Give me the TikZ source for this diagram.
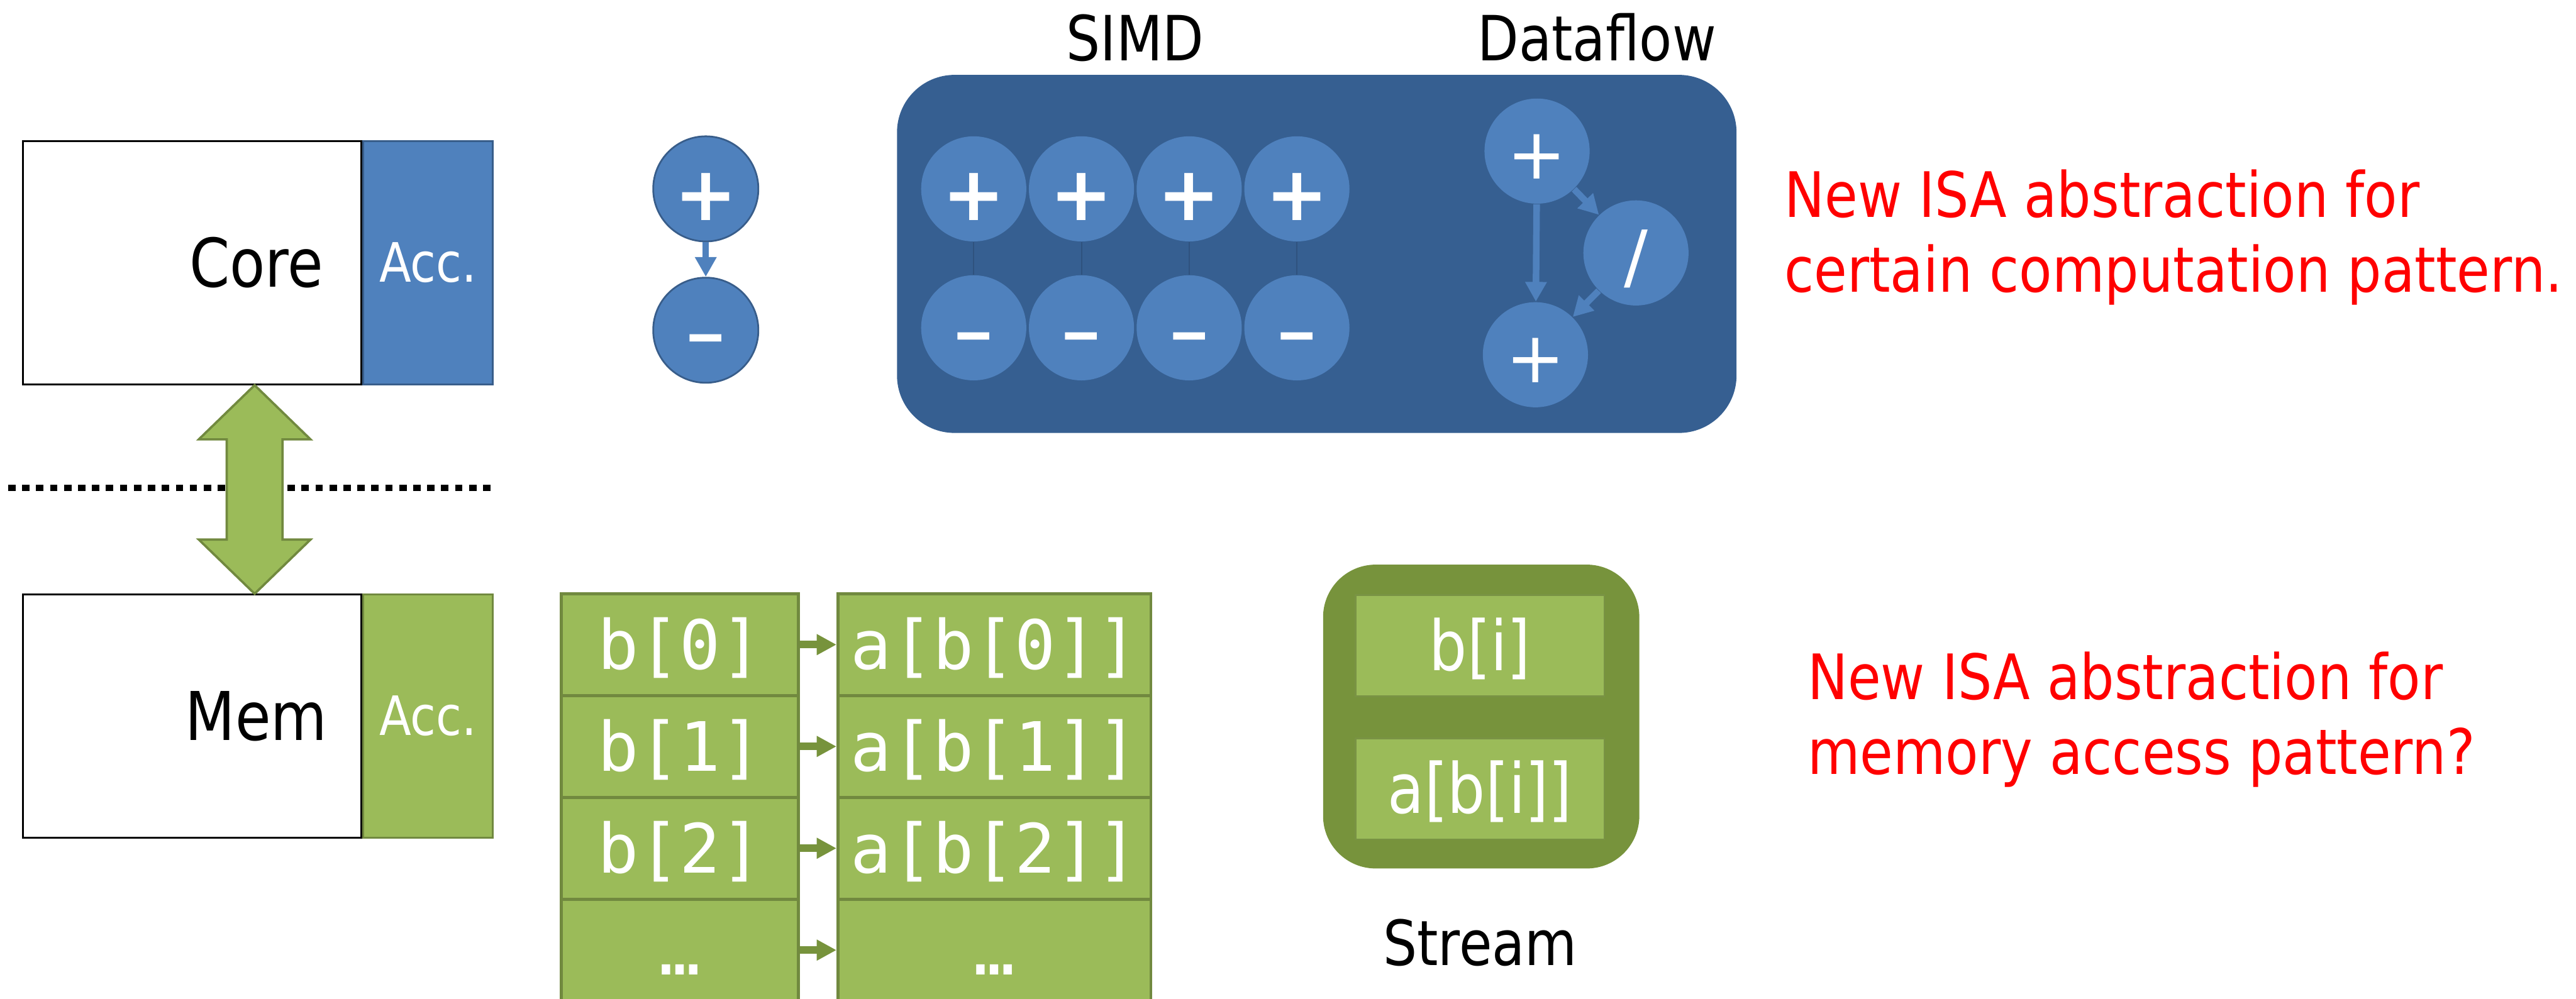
\documentclass[tikz,border=0pt]{standalone}
\usepackage{fontspec}
\setmainfont{DejaVu Sans}[FakeStretch=0.86]
\setmonofont{DejaVu Sans Mono}
\newfontfamily\opfont{DejaVu Sans}
\newfontfamily\dashfont{DejaVu Sans}[FakeStretch=1.33]
\usetikzlibrary{arrows.meta, positioning}
\definecolor{accblue}{HTML}{4F81BD}
\definecolor{accline}{HTML}{385D8A}
\definecolor{panelblue}{HTML}{365F91}
\definecolor{linkblue}{HTML}{2F527E}
\definecolor{accgreen}{HTML}{9BBB59}
\definecolor{greenline}{HTML}{71893F}
\definecolor{streamgreen}{HTML}{77933C}

\begin{document}
\begin{tikzpicture}[x=0.2mm, y=-0.2mm,
    host/.style={rectangle, draw=black, line width=0.6pt, fill=white, minimum width=4.12cm, minimum height=2.96cm, inner sep=0},
    hosttext/.style={font=\fontsize{23.3}{28}\selectfont, xshift=0.78cm},
    acc/.style={rectangle, line width=0.6pt, minimum width=1.58cm, minimum height=2.96cm, inner sep=0, text=white, font=\fontsize{18.8}{22}\selectfont},
    bus/.style={fill=accgreen, draw=greenline, line width=0.8pt},
    sepline/.style={line width=0.075cm, dash pattern=on 0.09cm off 0.08cm},
    op/.style={circle, fill=accblue, minimum size=1.28cm, inner sep=0},
    plustext/.style={text=white, yshift=-0.1cm, font={\opfont\bfseries\fontsize{26}{28}\selectfont}},
    minustext/.style={text=white, yshift=-0.23cm, font={\dashfont\fontsize{31.5}{34}\selectfont}},
    flowtext/.style={text=white, yshift=-0.07cm, font={\opfont\fontsize{24.5}{26}\selectfont}},
    opline/.style={draw=accline, line width=0.6pt},
    flow/.style={-{Triangle[width=0.25cm, length=0.24cm]}, line width=0.08cm, draw=accblue},
    link/.style={draw=linkblue, line width=0.4pt},
    panel/.style={rectangle, rounded corners=0.7cm, fill=panelblue, minimum width=10.22cm, minimum height=4.36cm},
    title/.style={font=\fontsize{21.6}{26}\selectfont, inner sep=0},
    cell/.style={rectangle, draw=greenline, line width=1pt, fill=accgreen, minimum height=1.24cm, text=white, text height=20pt, text depth=3pt, font=\ttfamily\fontsize{23.6}{28}\selectfont},
    garrow/.style={-{Triangle[width=0.24cm, length=0.24cm]}, line width=0.092cm, draw=streamgreen},
    streambox/.style={rectangle, rounded corners=0.64cm, fill=streamgreen, minimum width=3.85cm, minimum height=3.7cm},
    slot/.style={rectangle, draw=greenline!80!accgreen, line width=0.6pt, fill=accgreen, minimum width=3.03cm, minimum height=1.23cm, text=white, text height=20.4pt, text depth=3.4pt, font=\fontsize{24}{28}\selectfont},
    note/.style={text=red, align=left, inner sep=0, font=\fontsize{21.7}{25.95}\selectfont}
]
    \useasboundingbox (0,0) rectangle (1568,608);

    % Core and memory
    \node[host, label={[hosttext]center:Core}] (core) at (117,160) {};
    \node[acc, fill=accblue, draw=accline, right=0pt of core] (coreacc) {Acc.};
    \node[host, below=2.54cm of core, label={[hosttext]center:Mem}] (mem) {};
    \node[acc, fill=accgreen, draw=greenline, right=0pt of mem] (memacc) {Acc.};

    % Boundary and link
    \draw[sepline] (5,297) -- (299,297);
    \path (core.south) ++(38,0) coordinate (bustop);
    \path (mem.north) ++(38,0) coordinate (busbot);
    \draw[bus] (bustop) -- ++(34,33) -- ++(-17,0) -- ++(0,61) -- ++(17,0) -- (busbot)
        -- ++(-34,-33) -- ++(17,0) -- ++(0,-61) -- ++(-17,0) -- cycle;

    % Single ops
    \node[op, opline, label={[plustext]center:+}] (plus) at (429.6,115) {};
    \node[op, opline, below=0.42cm of plus, label={[minustext]center:-}] (minus) {};
    \draw[flow] (plus) -- (minus);

    % SIMD and dataflow
    \node[panel] (panel) at (801.5,154.6) {};
    \node[title, anchor=base] (simd) at (691,37) {SIMD};
    \node[title, anchor=base] (dataflow) at (972,37) {Dataflow};
    \foreach \i in {0,...,3} {
        \node[op, label={[plustext]center:+}] (p\i) at (592.7+65.57*\i,115) {};
        \node[op, label={[minustext]center:-}] (m\i) at (592.7+65.57*\i,199.6) {};
        \draw[link] (p\i) -- (m\i);
    }
    \node[op, label={[flowtext]center:+}] (dfa) at (935.6,92) {};
    \node[op, label={[flowtext]center:/}] (dfdiv) at (995.8,154) {};
    \node[op, label={[flowtext]center:+}] (dfb) at (934.6,216) {};
    \draw[flow] (dfa) -- (dfb);
    \draw[flow] (dfa) -- (dfdiv);
    \draw[flow] (dfdiv) -- (dfb);

    % Indirect access
    \foreach \i/\y in {0/392.5,1/454.5,2/516.5} {
        \node[cell, minimum width=2.89cm] (b\i) at (413.8,\y) {b[\i]};
        \node[cell, minimum width=3.81cm] (a\i) at (605.3,\y) {a[b[\i]]};
        \draw[garrow] (b\i) -- (a\i);
    }
    \node[cell, minimum width=2.89cm] (b3) at (413.8,578.5) {…};
    \node[cell, minimum width=3.81cm] (a3) at (605.3,578.5) {…};
    \draw[garrow] (b3) -- (a3);

    % Stream
    \node[streambox] (stream) at (901.6,436.3) {};
    \node[slot] (sb) at (900.8,393.2) {b[i]};
    \node[slot] (sa) at (900.8,480.3) {a[b[i]]};
    \node[title, anchor=base] (streamlbl) at (901,587.7) {Stream};

    % Notes
    \node[note, anchor=base west] (isa1) at (1085.8,178) {New ISA abstraction for\\certain computation pattern.};
    \node[note, anchor=base west] (isa2) at (1099.9,471.5) {New ISA abstraction for\\memory access pattern?};
\end{tikzpicture}
\end{document}
